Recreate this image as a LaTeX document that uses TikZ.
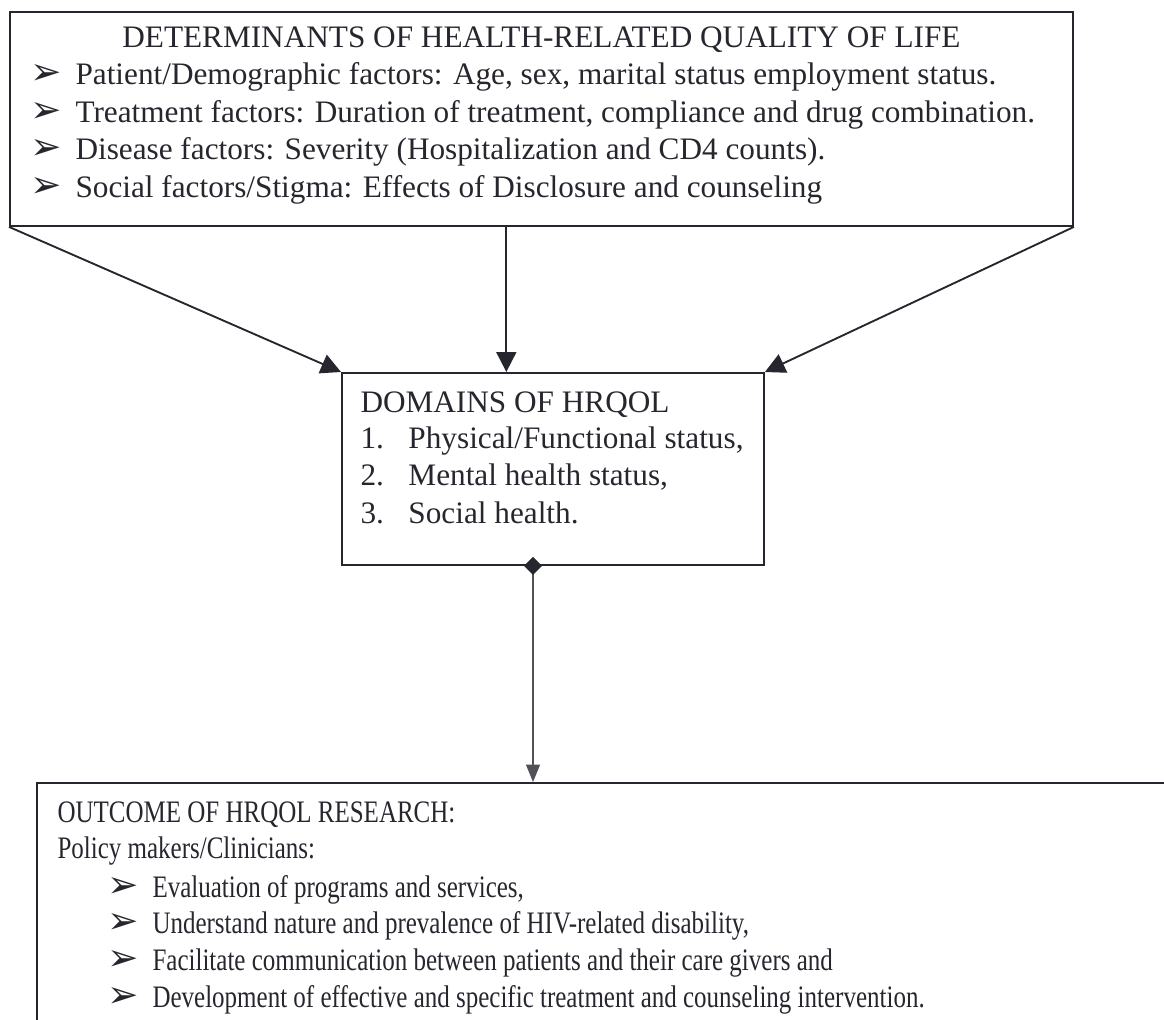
\documentclass[tikz,border=0pt]{standalone}
\usepackage{fontspec}
\setmainfont{Liberation Serif}
\newfontfamily\dingfont{DejaVu Sans}
\newfontfamily\narrowfont[FakeStretch=0.8]{Liberation Serif}
\usetikzlibrary{arrows.meta, calc}
\definecolor{ink}{RGB}{38,38,46}
\newcommand{\bul}{\makebox[18pt][l]{\dingfont\fontsize{15}{15}\selectfont ➢}}
\newcommand{\num}[1]{\makebox[19.2pt][l]{#1}}

\begin{document}
\begin{tikzpicture}[x=0.4pt, y=-0.4pt,
      boxframe/.style={draw=ink, line width=0.75pt, inner sep=0pt, anchor=north west},
      txtline/.style={anchor=base west, inner sep=0pt, text=ink, font=\fontsize{12.5}{15}\selectfont},
      narrowline/.style={txtline, font=\narrowfont\fontsize{12.5}{15}\selectfont},
      feed/.style={draw=ink, line width=0.75pt, -{Triangle[length=8pt,width=8pt]}},
      result/.style={draw=ink!80, line width=0.6pt, {Diamond[length=7.2pt,width=7.2pt,fill=ink,color=ink]}-{Triangle[length=7pt,width=5.6pt]}, shorten <=-3.6pt}]
      \useasboundingbox (0,0) rectangle (1164,1019);
      \clip (0,0) rectangle (1164,1019);
      % boxes
      \node (det)[boxframe, minimum width=425.2pt, minimum height=85.6pt] at (9,11) {};
      \node (dom)[boxframe, minimum width=168.8pt, minimum height=76.8pt] at (341,372) {};
      \node (out)[boxframe, minimum width=480pt, minimum height=120pt] at (36,782) {};
      % determinants
      \node (dettitle)[txtline, anchor=base] at ($(det.north)+(0,37)$) {DETERMINANTS OF HEALTH-RELATED QUALITY OF LIFE};
      \node (det1)[txtline] at (30,85) {\bul Patient/Demographic factors: Age, sex, marital status employment status.};
      \node (det2)[txtline] at (30,122) {\bul Treatment factors: Duration of treatment, compliance and drug combination.};
      \node (det3)[txtline] at (30,159) {\bul Disease factors: Severity (Hospitalization and CD4 counts).};
      \node (det4)[txtline] at (30,197) {\bul Social factors/Stigma: Effects of Disclosure and counseling};
      % domains
      \node (domtitle)[txtline] at (360,412) {DOMAINS OF HRQOL};
      \node (dom1)[txtline] at (360,448) {\num{1.}Physical/Functional status,};
      \node (dom2)[txtline] at (360,485) {\num{2.}Mental health status,};
      \node (dom3)[txtline] at (360,523) {\num{3.}Social health.};
      % outcome
      \node (outtitle)[narrowline] at (57,822) {OUTCOME OF HRQOL RESEARCH:};
      \node (outwho)[narrowline] at (57,858) {Policy makers/Clinicians:};
      \node (out1)[narrowline] at (107,897) {\bul Evaluation of programs and services,};
      \node (out2)[narrowline] at (107,933) {\bul Understand nature and prevalence of HIV-related disability,};
      \node (out3)[narrowline] at (107,970) {\bul Facilitate communication between patients and their care givers and};
      \node (out4)[narrowline] at (107,1007) {\bul Development of effective and specific treatment and counseling intervention.};
      % connectors
      \coordinate (midin) at ($(dom.north west)!0.39!(dom.north east)$);
      \coordinate (midout) at ($(dom.south west)!0.453!(dom.south east)$);
      \draw[feed] (det.south west) -- (dom.north west);
      \draw[feed] (det.south -| midin) -- (midin);
      \draw[feed] (det.south east) -- (dom.north east);
      \draw[result] (midout) -- (out.north -| midout);
    \end{tikzpicture}
\end{document}
